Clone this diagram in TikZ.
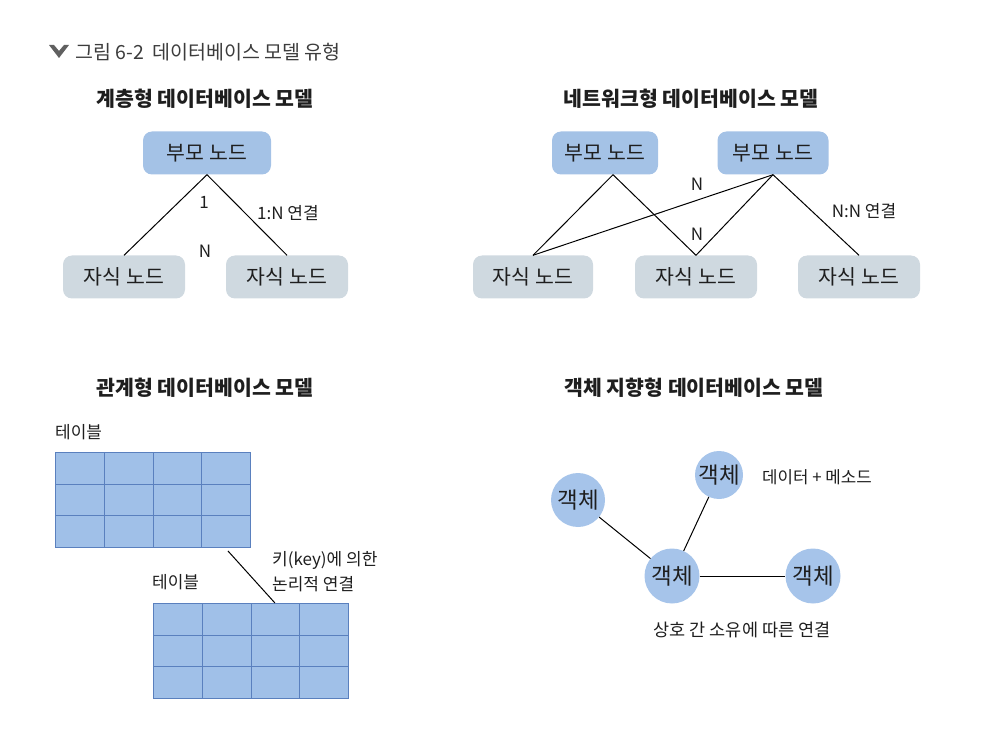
\documentclass[tikz,border=0pt]{standalone}
\usepackage{fontspec}
\usetikzlibrary{calc}
\setmainfont{Noto Sans CJK KR}
\definecolor{pblue}{RGB}{164,194,230}
\definecolor{cgray}{RGB}{207,217,224}
\definecolor{tblue}{RGB}{160,192,232}
\definecolor{tline}{RGB}{90,128,190}
\definecolor{obj}{RGB}{166,196,234}
\definecolor{txt}{RGB}{30,30,30}
\definecolor{ttl}{RGB}{60,60,60}
\begin{document}
\begin{tikzpicture}[x=1pt,y=-1pt,
  every node/.style={text=txt, inner sep=0pt},
  parentbox/.style={rounded corners=9pt, fill=pblue, minimum width=128pt, minimum height=43pt, font=\fontsize{20.5}{22}\selectfont},
  childbox/.style={rounded corners=9pt, fill=cgray, minimum width=122pt, minimum height=43pt, font=\fontsize{20.5}{22}\selectfont},
  sectitle/.style={font=\fontsize{20.5}{23}\selectfont\bfseries},
  small/.style={font=\fontsize{17}{19}\selectfont},
  mid/.style={font=\fontsize{17}{20}\selectfont},
  tablebox/.style={fill=tblue, draw=tline, line width=0.9pt, minimum width=195pt, minimum height=95pt},
  objc/.style={circle, fill=obj, font=\fontsize{22.5}{24}\selectfont},
  link/.style={line width=1pt, draw=black}
]
\useasboundingbox (0,0) rectangle (986,730);
% title
\fill[gray!75!black] (49,45) -- (54,45) -- (59,51) -- (64,45) -- (69,45) -- (59,58) -- cycle;
\node[anchor=west, text=ttl, font=\fontsize{19.5}{22}\selectfont] (title) at (75,52) {그림 6-2\ \ 데이터베이스 모델 유형};

% ---------- hierarchical ----------
\node[sectitle] (h) at (205,99) {계층형 데이터베이스 모델};
\node[parentbox] (hp) at (207,153) {부모 노드};
\node[childbox] (hc1) at (124,277) {자식 노드};
\node[childbox] (hc2) at (287,277) {자식 노드};
\draw[link] (hp.south) -- (hc1.north);
\draw[link] (hp.south) -- (hc2.north);
\node[small] (h1) at (204,202) {1};
\node[small] (hN) at (205,251) {N};
\node[small] (hlab) at (288,213) {1:N 연결};

% ---------- network ----------
\node[sectitle] (n) at (691,99) {네트워크형 데이터베이스 모델};
\node[parentbox, minimum width=106pt] (np1) at (605,153) {부모 노드};
\node[parentbox, minimum width=111pt] (np2) at (773,153) {부모 노드};
\node[childbox, minimum width=120pt] (nc1) at (533,277) {자식 노드};
\node[childbox] (nc2) at (696,277) {자식 노드};
\node[childbox] (nc3) at (859,277) {자식 노드};
\coordinate (a1) at ([xshift=8pt]np1.south);
\coordinate (a2) at (np2.south);
\draw[link] (a1) -- (nc1.north);
\draw[link] (a1) -- (nc2.north);
\draw[link] (a2) -- (nc1.north);
\draw[link] (a2) -- (nc2.north);
\draw[link] (a2) -- (nc3.north);
\node[small] (nN1) at (697,184) {N};
\node[small] (nN2) at (697,234) {N};
\node[small] (nlab) at (864,211) {N:N 연결};

% ---------- relational ----------
\node[sectitle] (r) at (205,388) {관계형 데이터베이스 모델};
\node[mid, anchor=west] (tl1) at (55,432) {테이블};
\node[tablebox, anchor=north west] (t1) at (55,452) {};
\node[mid, anchor=west] (tl2) at (152,582) {테이블};
\node[tablebox, anchor=north west] (t2) at (153,603) {};
\foreach \t in {t1,t2}{
  \foreach \i in {1,2,3}{
    \draw[tline, line width=0.9pt] ($(\t.north west)!\i/4!(\t.north east)$) -- ($(\t.south west)!\i/4!(\t.south east)$);
  }
  \foreach \j in {1,2}{
    \draw[tline, line width=0.9pt] ($(\t.north west)!\j/3!(\t.south west)$) -- ($(\t.north east)!\j/3!(\t.south east)$);
  }
}
\coordinate (k1) at ([xshift=-23pt,yshift=-3pt]t1.south east);
\coordinate (k2) at ([xshift=24pt]t2.north);
\draw[link] (k1) -- (k2);
\node[anchor=west, align=left, font=\fontsize{17}{25}\selectfont] (klab) at (272,572) {키(key)에 의한\\논리적 연결};

% ---------- object ----------
\node[sectitle] (o) at (694,388) {객체 지향형 데이터베이스 모델};
\node[objc, minimum size=54pt] (oa) at (578,500) {객체};
\node[objc, minimum size=48pt] (ob) at (719,475) {객체};
\node[objc, minimum size=55pt] (oc) at (672,576) {객체};
\node[objc, minimum size=55pt] (od) at (813,576) {객체};
\draw[link] (oa) -- (oc);
\draw[link] (ob) -- (oc);
\draw[link] (oc) -- (od);
\node[font=\fontsize{16.8}{19}\selectfont, anchor=west] (olab1) at (762,477) {데이터 + 메소드};
\node[font=\fontsize{17.5}{20}\selectfont] (olab2) at (742,630) {상호 간 소유에 따른 연결};
\end{tikzpicture}
\end{document}
